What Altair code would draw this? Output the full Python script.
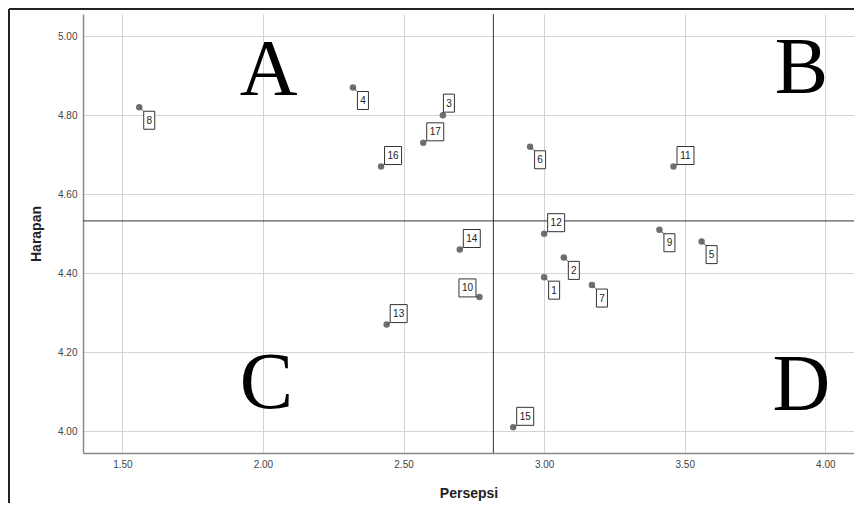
import altair as alt
import pandas as pd

# ---- data ----
ids = [1, 2, 3, 4, 5, 6, 7, 8, 9, 10, 11, 12, 13, 14, 15, 16, 17]
persepsi = [3.00, 3.07, 2.64, 2.32, 3.56, 2.95, 3.17, 1.56, 3.41, 2.77,
            3.46, 3.00, 2.44, 2.70, 2.89, 2.42, 2.57]
harapan = [4.39, 4.44, 4.80, 4.87, 4.48, 4.72, 4.37, 4.82, 4.51, 4.34,
           4.67, 4.50, 4.27, 4.46, 4.01, 4.67, 4.73]
# side of the point on which each boxed label sits (style)
label_side = ["LR", "LR", "UR", "LR", "LR", "LR", "LR", "LR", "LR", "UL",
              "UR", "UR", "UR", "UR", "UR", "UR", "UR"]

x_ticks = [1.5, 2.0, 2.5, 3.0, 3.5, 4.0]
y_ticks = [4.0, 4.2, 4.4, 4.6, 4.8, 5.0]
x_domain = [1.36, 4.102]
y_domain = [3.945, 5.056]

quadrant_names = ["A", "B", "C", "D"]
quadrant_x = [2.02, 3.915, 2.012, 3.915]
quadrant_y = [4.851, 4.855, 4.06, 4.055]

df = pd.DataFrame({"id": ids, "persepsi": persepsi, "harapan": harapan,
                   "side": label_side})
df["label"] = df["id"].astype(str)
df["digits"] = df["label"].str.len()

letters = pd.DataFrame({"q": quadrant_names, "persepsi": quadrant_x,
                        "harapan": quadrant_y})

X = alt.X("persepsi:Q", title="Persepsi",
          scale=alt.Scale(domain=x_domain, nice=False, zero=False),
          axis=alt.Axis(values=x_ticks, format=".2f", grid=True,
                        labelPadding=6, titlePadding=17))
Y = alt.Y("harapan:Q", title="Harapan",
          scale=alt.Scale(domain=y_domain, nice=False, zero=False),
          axis=alt.Axis(values=y_ticks, format=".2f", grid=True,
                        labelPadding=6, titlePadding=14))

base = alt.Chart(df)

# quadrant lines at the means
vline = base.mark_rule(color="#333333", strokeWidth=1).encode(x="mean(persepsi):Q")
hline = base.mark_rule(color="#333333", strokeWidth=1).encode(y="mean(harapan):Q")

points = base.mark_circle(size=42, color="#707070", opacity=1).encode(x=X, y=Y)

BOX_H = 18
BOX_W = {1: 11, 2: 17}
OFFS = {("UR", 1): (6, -12), ("UR", 2): (12, -11),
        ("LR", 1): (10, 13), ("LR", 2): (12, 12),
        ("UL", 1): (-8, -11), ("UL", 2): (-12, -9)}

label_layers = []
for (side, dg), (dx, dy) in OFFS.items():
    sub = df[(df["side"] == side) & (df["digits"] == dg)]
    if sub.empty:
        continue
    w = BOX_W[dg]
    hw = w / 2 / 9.0
    shape = f"M{-hw:.3f},-1L{hw:.3f},-1L{hw:.3f},1L{-hw:.3f},1Z"
    # corner of box closest to the point
    cx = dx - w / 2 if dx > 0 else dx + w / 2
    cy = dy + BOX_H / 2 if dy < 0 else dy - BOX_H / 2
    c = alt.Chart(sub)
    conn = c.mark_rule(color="#555555", strokeWidth=1,
                       x2Offset=cx, y2Offset=cy).encode(
        x="persepsi:Q", y="harapan:Q", x2="persepsi:Q", y2="harapan:Q")
    box = c.mark_point(shape=shape, size=324, filled=True, fill="white",
                       stroke="#333333", strokeWidth=1, opacity=1,
                       xOffset=dx, yOffset=dy).encode(
        x="persepsi:Q", y="harapan:Q")
    txt = c.mark_text(dx=dx, dy=dy + 0.5, fontSize=10, font="Liberation Sans",
                      color="#222222", align="center", baseline="middle").encode(
        x="persepsi:Q", y="harapan:Q", text="label:N")
    label_layers += [conn, box, txt]

big = alt.Chart(letters).mark_text(font="Liberation Serif", fontSize=80,
                                   color="black", align="center",
                                   baseline="alphabetic").encode(
    x="persepsi:Q", y="harapan:Q", text="q:N")

# outer frame (left and top border of the figure)
frame_left = base.mark_rule(color="#222222", strokeWidth=2).encode(
    x=alt.value(-74), y=alt.value(-5), y2=alt.value(489))
frame_top = base.mark_rule(color="#222222", strokeWidth=2).encode(
    y=alt.value(-5), x=alt.value(-74), x2=alt.value(771))

chart = alt.layer(vline, hline, points, *label_layers, big,
                  frame_left, frame_top).properties(
    width=771, height=439,
    autosize=alt.AutoSizeParams(type="none"),
    padding={"left": 75, "top": 6, "right": 0, "bottom": 50},
).configure_axis(
    labelFont="Liberation Sans", labelFontSize=10, labelColor="#444444",
    titleFont="Liberation Sans", titleFontSize=14, titleFontWeight="bold",
    titleColor="#222222", gridColor="#d4d4d4", gridWidth=1,
    domainColor="#8a8a8a", domainWidth=1.5, ticks=False, tickSize=0,
).configure_view(stroke="transparent")

chart.save("out.html", embed_options={"renderer": "svg", "actions": False})
